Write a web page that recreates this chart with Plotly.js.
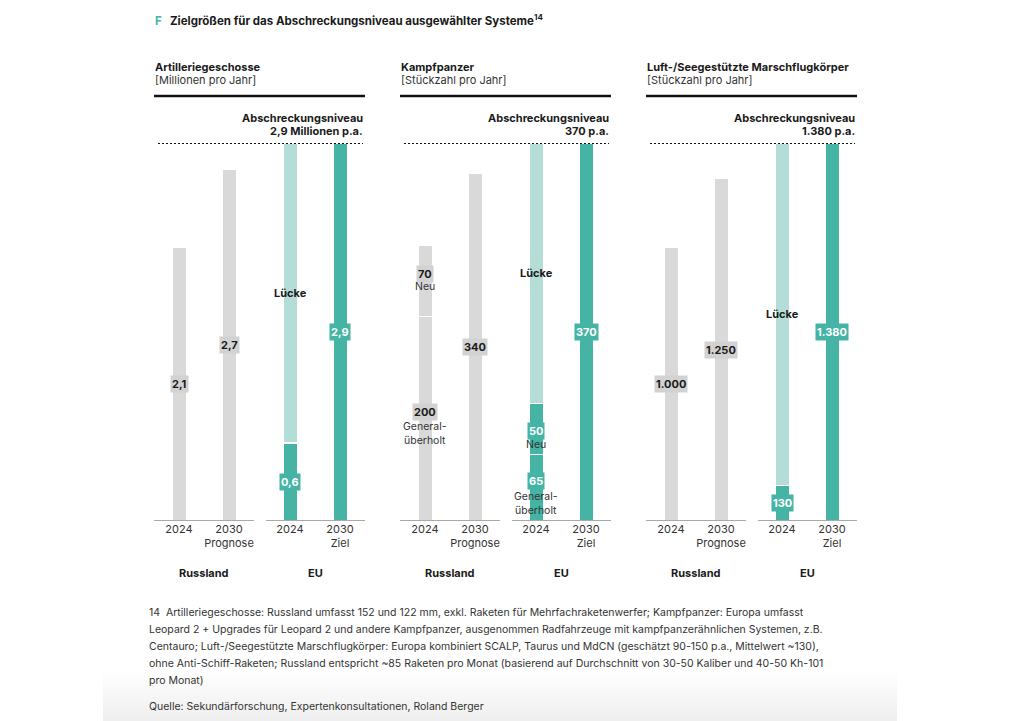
<!DOCTYPE html>
<html><head><meta charset="utf-8">
<script src="https://cdn.plot.ly/plotly-3.0.1.min.js"></script>
<style>html,body{margin:0;padding:0;background:#fff}</style>
</head><body>
<div id="chart" style="width:1024px;height:721px"></div>
<script>
// ---------- DATA ----------
const chartTitle = "Zielgrößen für das Abschreckungsniveau ausgewählter Systeme";
const chartLetter = "F";
const footnoteMark = "14";
const panelNames = ["Artilleriegeschosse", "Kampfpanzer", "Luft-/Seegestützte Marschflugkörper"];
const panelUnits = ["[Millionen pro Jahr]", "[Stückzahl pro Jahr]", "[Stückzahl pro Jahr]"];
const categories = ["2024", "2030<br>Prognose", "2024", "2030<br>Ziel"];
const groupNames = ["Russland", "EU"];
const targetTitle = "Abschreckungsniveau";
const targetValues = [2.9, 370, 1380];
const targetLabels = ["2,9 Millionen p.a.", "370 p.a.", "1.380 p.a."];
const rus2024Segments = [[2.1], [200, 70], [1000]];
const rus2024SegmentNames = [[""], ["General-<br>überholt", "Neu"], [""]];
const rus2030Values = [2.7, 340, 1250];
const eu2024Segments = [[0.6], [65, 50], [130]];
const eu2024SegmentNames = [[""], ["General-<br>überholt", "Neu"], [""]];
const eu2030Values = [2.9, 370, 1380];
const gapLabel = "Lücke";
const footnoteLines = [
  "14  Artilleriegeschosse: Russland umfasst 152 und 122 mm, exkl. Raketen für Mehrfachraketenwerfer; Kampfpanzer: Europa umfasst",
  "Leopard 2 + Upgrades für Leopard 2 und andere Kampfpanzer, ausgenommen Radfahrzeuge mit kampfpanzerähnlichen Systemen, z.B.",
  "Centauro; Luft-/Seegestützte Marschflugkörper: Europa kombiniert SCALP, Taurus und MdCN (geschätzt 90-150 p.a., Mittelwert ~130),",
  "ohne Anti-Schiff-Raketen; Russland entspricht ~85 Raketen pro Monat (basierend auf Durchschnitt von 30-50 Kaliber und 40-50 Kh-101",
  "pro Monat)"
];
const sourceLine = "Quelle: Sekundärforschung, Expertenkonsultationen, Roland Berger";

// ---------- STYLE ----------
const FONT = "Inter, 'Noto Sans', sans-serif";
const GRAY = "#d9d9d9", GRAYBOX = "#d2d2d2", TEAL = "#45b4a5", LIGHT = "#b4ddd7", INK = "#1a1a1a";
const W = 1024, H = 721;
const px = x => x / W, py = y => 1 - y / H;
const panelLeft = [154, 400, 646], panelWidth = 211;
const plotBottom = 521, plotTop = 143;
const groupGap = 0.22;
const xPos = categories.map((c, i) => i + (i >= 2 ? groupGap : 0));
const barW = 0.29;
const xRange = [-0.5, 3.72];

function fmt(v) {
  if (v < 10) return String(v).replace(".", ",");
  return String(v).replace(/\B(?=(\d{3})+(?!\d))/g, ".");
}

const traces = [], annotations = [], shapes = [];
const layout = {
  width: W, height: H, autosize: false,
  margin: {l: 0, r: 0, t: 0, b: 0},
  paper_bgcolor: "rgba(0,0,0,0)", plot_bgcolor: "rgba(0,0,0,0)",
  barmode: "stack", showlegend: false,
  font: {family: FONT, color: INK, size: 11}
};

function bar(ax, x, y, color) {
  traces.push({
    type: "bar", x: [x], y: [y], width: barW,
    xaxis: "x" + ax, yaxis: "y" + ax,
    marker: {color: color, line: {color: "#ffffff", width: 1.5}},
    hoverinfo: "skip"
  });
}
function valLabel(ax, x, y, text, bg, fc, shift) {
  annotations.push({
    xref: "x" + ax, yref: "y" + ax, x: x, y: y, text: "<b>" + text + "</b>",
    showarrow: false, bgcolor: bg, borderpad: 1, yshift: shift || 0,
    font: {family: FONT, size: 11, color: fc}
  });
}
function subLabel(ax, x, y, text, shift) {
  annotations.push({
    xref: "x" + ax, yref: "y" + ax, x: x, y: y, text: text,
    showarrow: false, yshift: shift, font: {family: FONT, size: 10.5, color: "#333"}
  });
}

for (let p = 0; p < 3; p++) {
  const ax = p === 0 ? "" : String(p + 1);
  const L = panelLeft[p];
  layout["xaxis" + ax] = {
    domain: [px(L), px(L + panelWidth)], range: xRange, anchor: "y" + ax,
    showgrid: false, zeroline: false, showline: false, ticks: "",
    tickvals: xPos, ticktext: categories, fixedrange: true,
    tickfont: {family: FONT, size: 11, color: "#333"}
  };
  layout["yaxis" + ax] = {
    domain: [py(plotBottom), py(plotTop)], range: [0, targetValues[p]], anchor: "x" + ax,
    visible: false, showgrid: false, zeroline: false, fixedrange: true
  };

  // Russland 2024 (stacked)
  let base = 0;
  rus2024Segments[p].forEach((v, k) => {
    bar(ax, xPos[0], v, GRAY);
    const mid = base + v / 2;
    const sub = rus2024SegmentNames[p][k];
    if (sub) {
      valLabel(ax, xPos[0], mid, fmt(v), GRAYBOX, INK, 7);
      subLabel(ax, xPos[0], mid, sub, sub.includes("<br>") ? -15 : -6);
    } else valLabel(ax, xPos[0], mid, fmt(v), GRAYBOX, INK, 0);
    base += v;
  });
  // Russland 2030
  bar(ax, xPos[1], rus2030Values[p], GRAY);
  valLabel(ax, xPos[1], rus2030Values[p] / 2, fmt(rus2030Values[p]), GRAYBOX, INK, 0);

  // EU 2024 (stacked) + gap
  base = 0;
  eu2024Segments[p].forEach((v, k) => {
    bar(ax, xPos[2], v, TEAL);
    const mid = base + v / 2;
    const sub = eu2024SegmentNames[p][k];
    if (sub) {
      valLabel(ax, xPos[2], mid, fmt(v), TEAL, "#fff", sub.includes("<br>") ? 7 : -2);
      subLabel(ax, xPos[2], mid, sub, sub.includes("<br>") ? -16 : -15);
    } else valLabel(ax, xPos[2], mid, fmt(v), TEAL, "#fff", 0);
    base += v;
  });
  const gap = targetValues[p] - base;
  bar(ax, xPos[2], gap, LIGHT);
  annotations.push({
    xref: "x" + ax, yref: "y" + ax, x: xPos[2], y: base + gap / 2,
    text: "<b>" + gapLabel + "</b>", showarrow: false,
    font: {family: FONT, size: 11, color: INK}
  });
  // EU 2030 Ziel
  bar(ax, xPos[3], eu2030Values[p], TEAL);
  valLabel(ax, xPos[3], eu2030Values[p] / 2, fmt(eu2030Values[p]), TEAL, "#fff", 0);

  // target dotted line
  shapes.push({type: "line", xref: "x" + ax, yref: "y" + ax, x0: -0.42, x1: 3.68,
    y0: targetValues[p], y1: targetValues[p], line: {color: "#111", width: 2, dash: "2px,2px"}});
  // baselines
  shapes.push({type: "line", xref: "x" + ax, yref: "y" + ax, x0: -0.5, x1: 1.5, y0: 0, y1: 0,
    line: {color: "#555", width: 1.2}});
  shapes.push({type: "line", xref: "x" + ax, yref: "y" + ax, x0: 1.74, x1: 3.72, y0: 0, y1: 0,
    line: {color: "#555", width: 1.2}});
  // header rule
  shapes.push({type: "line", xref: "paper", yref: "paper", x0: px(L), x1: px(L + panelWidth),
    y0: py(96), y1: py(96), line: {color: "#111", width: 2.5}});

  // headers
  annotations.push({xref: "paper", yref: "paper", x: px(L - 1), y: py(67), xanchor: "left", yanchor: "middle",
    text: "<b>" + panelNames[p] + "</b>", showarrow: false, font: {family: FONT, size: 11, color: INK}});
  annotations.push({xref: "paper", yref: "paper", x: px(L - 1), y: py(80), xanchor: "left", yanchor: "middle",
    text: panelUnits[p], showarrow: false, font: {family: FONT, size: 11, color: "#333"}});
  annotations.push({xref: "paper", yref: "paper", x: px(L + panelWidth), y: py(118), xanchor: "right", yanchor: "middle",
    text: "<b>" + targetTitle + "</b>", showarrow: false, font: {family: FONT, size: 11, color: INK}});
  annotations.push({xref: "paper", yref: "paper", x: px(L + panelWidth), y: py(131), xanchor: "right", yanchor: "middle",
    text: "<b>" + targetLabels[p] + "</b>", showarrow: false, font: {family: FONT, size: 11, color: INK}});
  // group names
  annotations.push({xref: "x" + ax, yref: "paper", x: (xPos[0] + xPos[1]) / 2, y: py(573), yanchor: "middle",
    text: "<b>" + groupNames[0] + "</b>", showarrow: false, font: {family: FONT, size: 11, color: INK}});
  annotations.push({xref: "x" + ax, yref: "paper", x: (xPos[2] + xPos[3]) / 2, y: py(573), yanchor: "middle",
    text: "<b>" + groupNames[1] + "</b>", showarrow: false, font: {family: FONT, size: 11, color: INK}});
}

// title
annotations.push({xref: "paper", yref: "paper", x: px(153), y: py(20), xanchor: "left", yanchor: "middle",
  text: "<b><span style='color:" + TEAL + "'>" + chartLetter + "</span>   " + chartTitle + "<sup>" + footnoteMark + "</sup></b>",
  showarrow: false, font: {family: FONT, size: 11.5, color: INK}});

// footnotes
footnoteLines.forEach((t, i) => {
  annotations.push({xref: "paper", yref: "paper", x: px(147), y: py(612 + 17 * i), xanchor: "left", yanchor: "middle",
    text: t, showarrow: false, font: {family: FONT, size: 10.5, color: "#333"}});
});
annotations.push({xref: "paper", yref: "paper", x: px(147), y: py(706), xanchor: "left", yanchor: "middle",
  text: sourceLine, showarrow: false, font: {family: FONT, size: 10.5, color: "#333"}});

// bottom gradient band
const steps = 12;
for (let i = 0; i < steps; i++) {
  const y0 = 672 + i * (49 / steps), y1 = y0 + 49 / steps + 0.5;
  const g = Math.round(255 - (i + 1) * (16 / steps));
  shapes.push({type: "rect", xref: "paper", yref: "paper", layer: "below",
    x0: px(103), x1: px(897), y0: py(y1), y1: py(y0),
    fillcolor: "rgb(" + g + "," + g + "," + g + ")", line: {width: 0}});
}

layout.annotations = annotations;
layout.shapes = shapes;
Plotly.newPlot("chart", traces, layout, {displayModeBar: false, staticPlot: true});
</script>
</body></html>
